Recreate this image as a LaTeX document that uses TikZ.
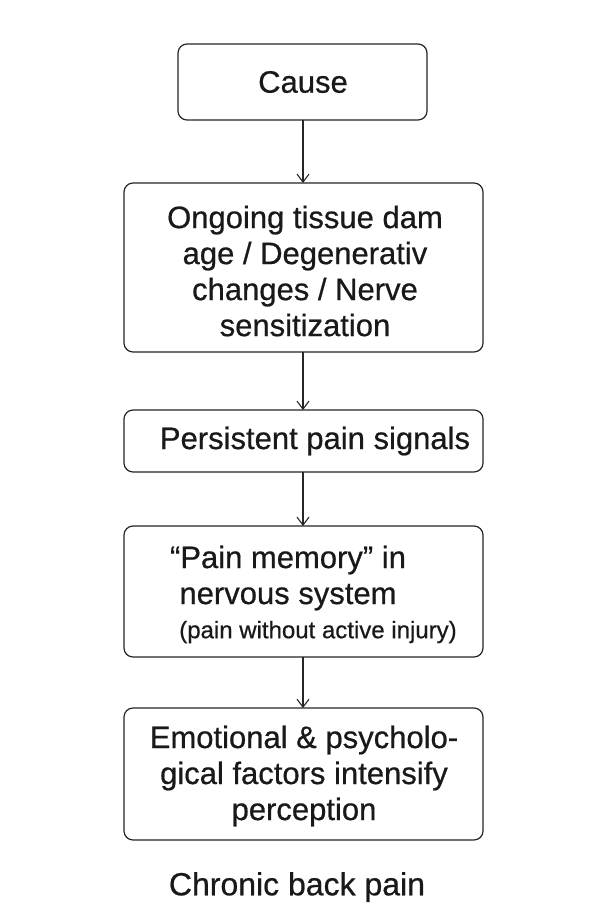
\documentclass[tikz,border=0pt]{standalone}
\usepackage{fontspec}
\setmainfont{Liberation Sans}[FakeBold=0.6,AutoFakeBold=0.6]
\usetikzlibrary{arrows.meta}
\begin{document}
\begin{tikzpicture}[x=1pt,y=-1pt,
  box/.style={draw=black!85,line width=1.2pt,rounded corners=9pt},
  txt/.style={font=\fontsize{31}{36}\selectfont\bfseries,align=center,text=black!90},
  arr/.style={draw=black!85,line width=1.1pt,-{Straight Barb[length=8pt,width=12pt]}}]
\useasboundingbox (0,0) rectangle (606,908);
\fill[white] (0,0) rectangle (606,908);
\draw[box] (178,44) rectangle (427,120);
\draw[box] (124,183) rectangle (483,352);
\draw[box] (124,410) rectangle (483,472);
\draw[box] (124,526) rectangle (483,657);
\draw[box] (124,708) rectangle (483,840);
\coordinate (b1) at (303,120); \coordinate (t2) at (303,183);
\coordinate (b2) at (303,352); \coordinate (t3) at (303,410);
\coordinate (b3) at (303,472); \coordinate (t4) at (303,526);
\coordinate (b4) at (303,657); \coordinate (t5) at (303,708);
\node[txt] (n1) at (303,82) {Cause};
\node[txt] (n2) at (305,271) {Ongoing tissue dam\\age / Degenerativ\\changes / Nerve\\sensitization};
\node[txt] (n3) at (315,441) {Persistent pain signals};
\node[txt] (n4a) at (288,578) {“Pain memory” in\\nervous system};
\node[font=\fontsize{24}{28}\selectfont,text=black!90] (n4b) at (318,632) {(pain without active injury)};
\node[txt] (n5) at (304,776) {Emotional \& psycholo-\\gical factors intensify\\perception};
\node[txt,font=\fontsize{32}{36}\selectfont\bfseries] (title) at (297,887) {Chronic back pain};
\draw[arr] (b1) -- (t2);
\draw[arr] (b2) -- (t3);
\draw[arr] (b3) -- (t4);
\draw[arr] (b4) -- (t5);
\end{tikzpicture}
\end{document}
